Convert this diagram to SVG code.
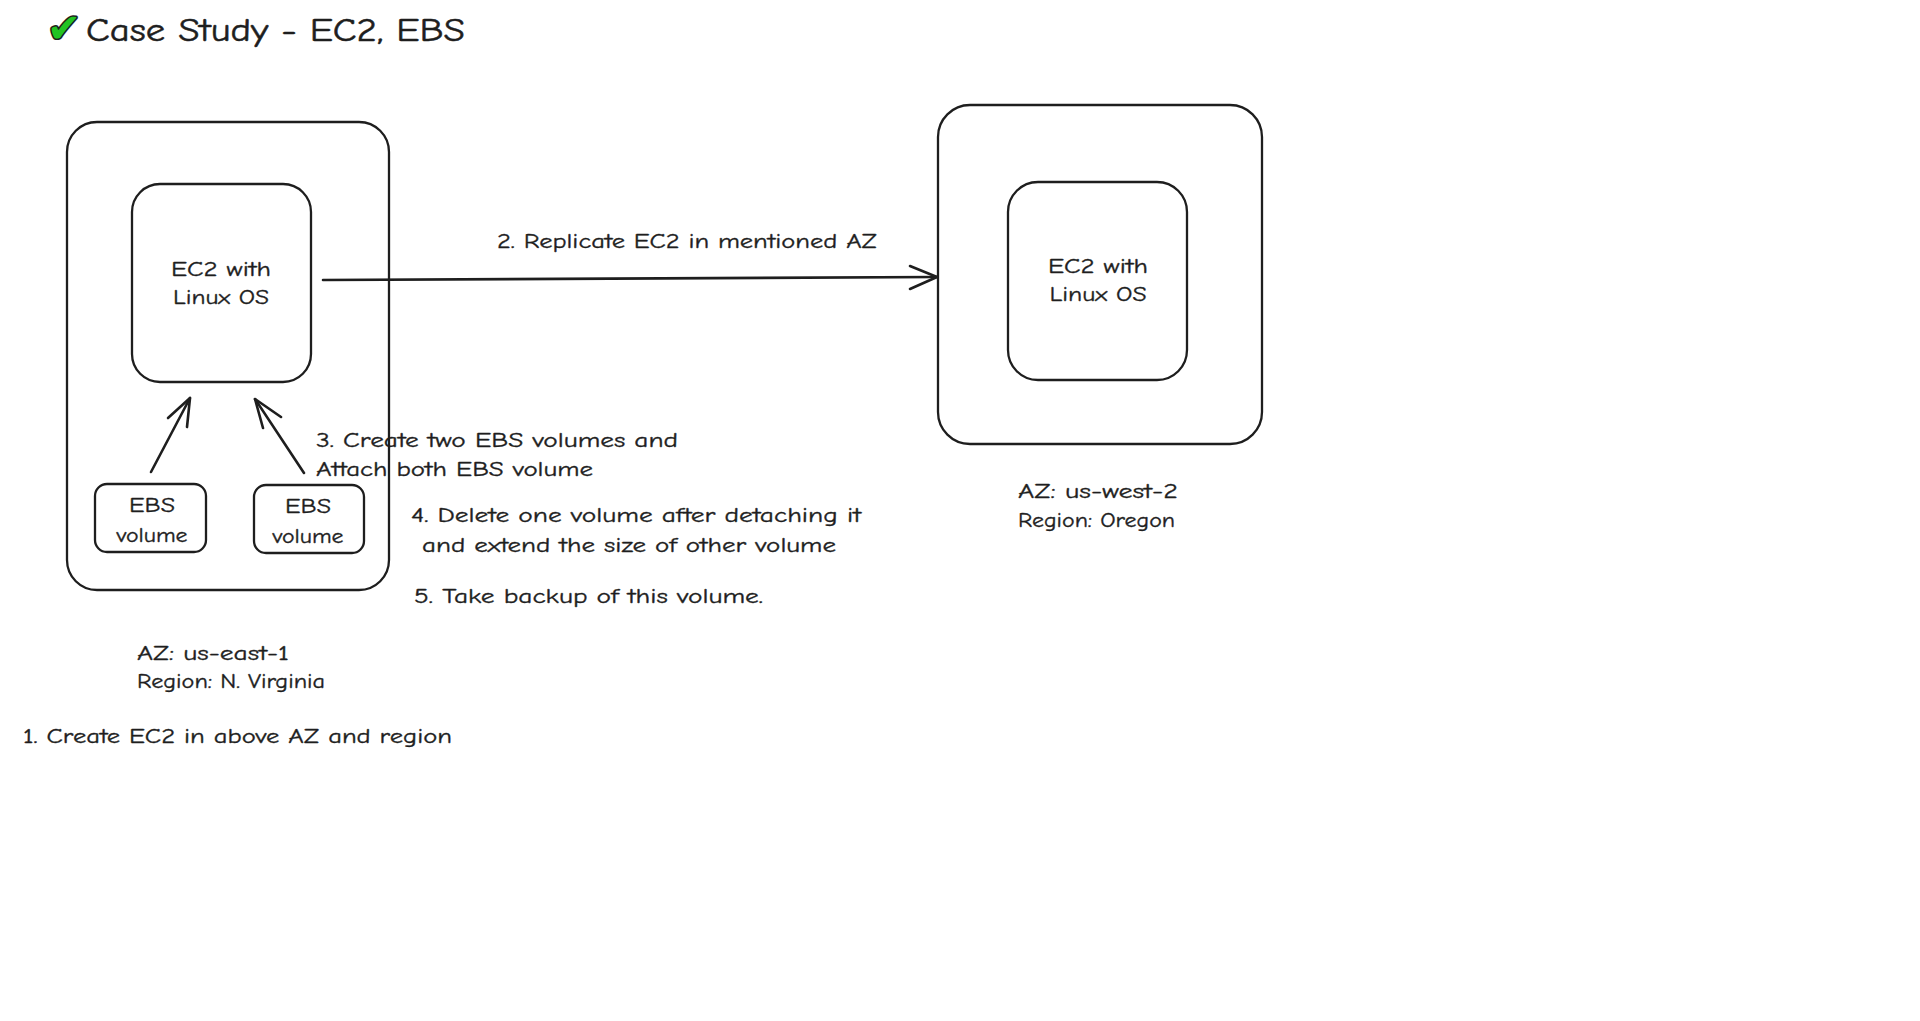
<svg xmlns="http://www.w3.org/2000/svg" width="1920" height="1021" viewBox="0 0 1920 1021">
<style>
.box{fill:none;stroke:#1e1e1e;stroke-width:2.3}
.ln{fill:none;stroke:#1e1e1e;stroke-width:2.6;stroke-linecap:round;stroke-linejoin:round}
.t{font-family:"Comic Neue","Liberation Sans","DejaVu Sans",sans-serif;font-size:21px;fill:#1e1e1e;stroke:#1e1e1e;stroke-width:0.35}
.title{font-size:32px;stroke-width:0.5}
.c{text-anchor:middle}
</style>
<rect width="1920" height="1021" fill="#ffffff"/>
<g id="title">
<text x="47" y="42" font-family="DejaVu Sans,sans-serif" font-weight="bold" font-size="40" fill="#22c322" stroke="#1e1e1e" stroke-width="3.2" stroke-linejoin="round" paint-order="stroke fill" textLength="34" lengthAdjust="spacingAndGlyphs">✔</text>
<text class="t title" x="86" y="41" textLength="379" lengthAdjust="spacingAndGlyphs">Case Study - EC2, EBS</text>
</g>
<g id="region-east">
<rect class="box" x="67" y="122" width="322" height="468" rx="30"/>
</g>
<g id="ec2-east">
<rect class="box" x="132" y="184" width="179" height="198" rx="28"/>
<text class="t c" x="221" y="276" textLength="100" lengthAdjust="spacingAndGlyphs">EC2 with</text>
<text class="t c" x="221" y="304" textLength="96" lengthAdjust="spacingAndGlyphs">Linux OS</text>
</g>
<g id="ebs-1">
<rect class="box" x="95" y="484" width="111" height="68" rx="12"/>
<text class="t c" x="152" y="512" textLength="46" lengthAdjust="spacingAndGlyphs">EBS</text>
<text class="t c" x="152" y="542" textLength="71" lengthAdjust="spacingAndGlyphs">volume</text>
</g>
<g id="ebs-2">
<rect class="box" x="254" y="485" width="110" height="68" rx="12"/>
<text class="t c" x="308" y="513" textLength="46" lengthAdjust="spacingAndGlyphs">EBS</text>
<text class="t c" x="308" y="543" textLength="71" lengthAdjust="spacingAndGlyphs">volume</text>
</g>
<g id="region-west">
<rect class="box" x="938" y="105" width="324" height="339" rx="32"/>
</g>
<g id="ec2-west">
<rect class="box" x="1008" y="182" width="179" height="198" rx="30"/>
<text class="t c" x="1098" y="273" textLength="100" lengthAdjust="spacingAndGlyphs">EC2 with</text>
<text class="t c" x="1098" y="301" textLength="97" lengthAdjust="spacingAndGlyphs">Linux OS</text>
</g>
<g id="connectors">
<path class="ln" d="M323 280 L937 277"/>
<path class="ln" d="M910 266 L937 277 L910 289"/>
<path class="ln" d="M151 472 L190 398"/>
<path class="ln" d="M168 418 L190 398 L187 427"/>
<path class="ln" d="M304 473 L255 399"/>
<path class="ln" d="M281 417 L255 399 L263 428"/>
</g>
<g id="labels">
<text class="t" x="497" y="248" textLength="380" lengthAdjust="spacingAndGlyphs">2. Replicate EC2 in mentioned AZ</text>
<text class="t" x="316" y="447" textLength="362" lengthAdjust="spacingAndGlyphs">3. Create two EBS volumes and</text>
<text class="t" x="316" y="476" textLength="277" lengthAdjust="spacingAndGlyphs">Attach both EBS volume</text>
<text class="t" x="411" y="522" textLength="450" lengthAdjust="spacingAndGlyphs">4. Delete one volume after detaching it</text>
<text class="t" x="422" y="552" textLength="414" lengthAdjust="spacingAndGlyphs">and extend the size of other volume</text>
<text class="t" x="414" y="603" textLength="349" lengthAdjust="spacingAndGlyphs">5. Take backup of this volume.</text>
<text class="t" x="137" y="660" textLength="152" lengthAdjust="spacingAndGlyphs">AZ: us-east-1</text>
<text class="t" x="137" y="688" textLength="188" lengthAdjust="spacingAndGlyphs">Region: N. Virginia</text>
<text class="t" x="23" y="743" textLength="429" lengthAdjust="spacingAndGlyphs">1. Create EC2 in above AZ and region</text>
<text class="t" x="1018" y="498" textLength="160" lengthAdjust="spacingAndGlyphs">AZ: us-west-2</text>
<text class="t" x="1018" y="527" textLength="157" lengthAdjust="spacingAndGlyphs">Region: Oregon</text>
</g>
</svg>
